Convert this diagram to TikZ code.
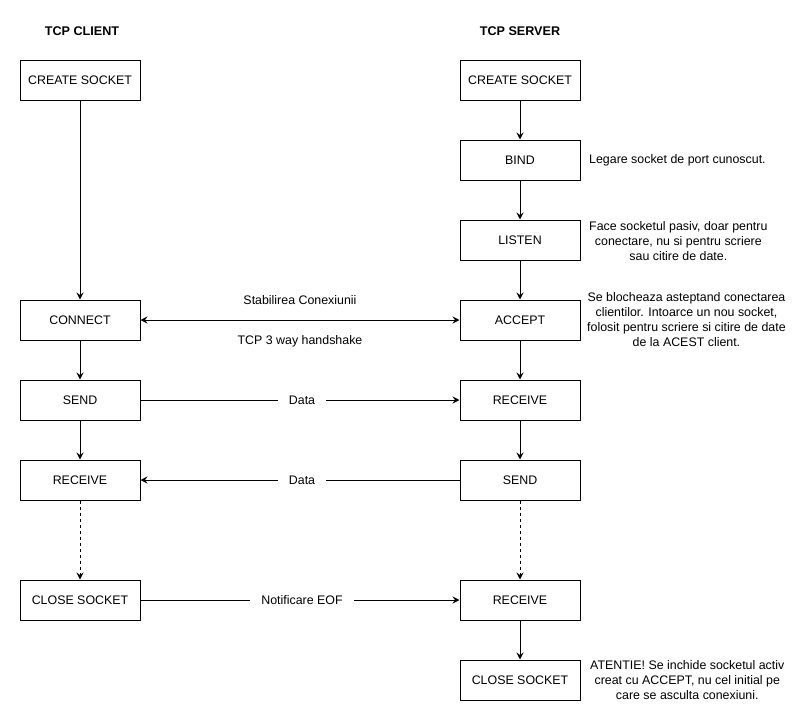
\documentclass[tikz,border=0pt]{standalone}
\usepackage{fontspec}
\setmainfont{Liberation Sans}
\usetikzlibrary{arrows.meta}
\begin{document}
\begin{tikzpicture}[x=1pt,y=-1pt,
  every node/.style={font=\fontsize{12.4}{15}\selectfont},
  block/.style={draw=black,line width=1pt,fill=white,minimum width=120pt,minimum height=40pt,inner sep=0pt},
  title/.style={font=\fontsize{12.6}{15}\selectfont\bfseries},
  note/.style={align=center,inner sep=0pt,anchor=west},
  lbl/.style={fill=white,inner xsep=11pt,inner ysep=3pt},
  flow/.style={line width=1pt,-{Stealth[length=7pt,width=7pt,inset=2.5pt]}},
  both/.style={line width=1pt,{Stealth[length=7pt,width=7pt,inset=2.5pt]}-{Stealth[length=7pt,width=7pt,inset=2.5pt]}},
  later/.style={flow,dash pattern=on 3pt off 3pt}]
\useasboundingbox (0,0) rectangle (811,726);

% column titles
\node[title] (tc) at (82,31) {TCP CLIENT};
\node[title] (ts) at (520,31) {TCP SERVER};

% client side
\node[block] (ccreate) at (80,80) {CREATE SOCKET};
\node[block] (cconn) at (80,320) {CONNECT};
\node[block] (csend) at (80,400) {SEND};
\node[block] (crecv) at (80,480) {RECEIVE};
\node[block] (cclose) at (80,600) {CLOSE SOCKET};

% server side
\node[block] (screate) at (520,80) {CREATE SOCKET};
\node[block] (sbind) at (520,160) {BIND};
\node[block] (slisten) at (520,240) {LISTEN};
\node[block] (saccept) at (520,320) {ACCEPT};
\node[block] (srecv) at (520,400) {RECEIVE};
\node[block] (ssend) at (520,480) {SEND};
\node[block] (srecv2) at (520,600) {RECEIVE};
\node[block] (sclose) at (520,680) {CLOSE SOCKET};

% notes beside the server calls
\node[note] (nbind) at (589,160) {Legare socket de port cunoscut.};
\node[note] (nlisten) at (589,241) {Face socketul pasiv, doar pentru\\conectare, nu si pentru scriere\\sau citire de date.};
\node[note] (naccept) at (587,320) {Se blocheaza asteptand conectarea\\clientilor. Intoarce un nou socket,\\folosit pentru scriere si citire de date\\de la ACEST client.};
\node[note] (nclose) at (590,680) {ATENTIE! Se inchide socketul activ\\creat cu ACCEPT, nu cel initial pe\\care se asculta conexiuni.};

% vertical flow
\draw[flow] (ccreate) -- (cconn);
\draw[flow] (cconn) -- (csend);
\draw[flow] (csend) -- (crecv);
\draw[later] (crecv) -- (cclose);

\draw[flow] (screate) -- (sbind);
\draw[flow] (sbind) -- (slisten);
\draw[flow] (slisten) -- (saccept);
\draw[flow] (saccept) -- (srecv);
\draw[flow] (srecv) -- (ssend);
\draw[later] (ssend) -- (srecv2);
\draw[flow] (srecv2) -- (sclose);

% exchanges between client and server
\draw[both] (cconn) -- (saccept)
  node[midway,yshift=20pt,inner sep=0pt] (lconn) {Stabilirea Conexiunii}
  node[midway,yshift=-21pt,inner sep=0pt] (lhand) {TCP 3 way handshake};
\draw[flow] (csend) -- node[lbl,pos=0.5,xshift=2pt] (ld1) {Data} (srecv);
\draw[flow] (ssend) -- node[lbl,pos=0.5,xshift=2pt] (ld2) {Data} (crecv);
\draw[flow] (cclose) -- node[lbl,pos=0.5,xshift=2pt] (leof) {Notificare EOF} (srecv2);
\end{tikzpicture}
\end{document}
